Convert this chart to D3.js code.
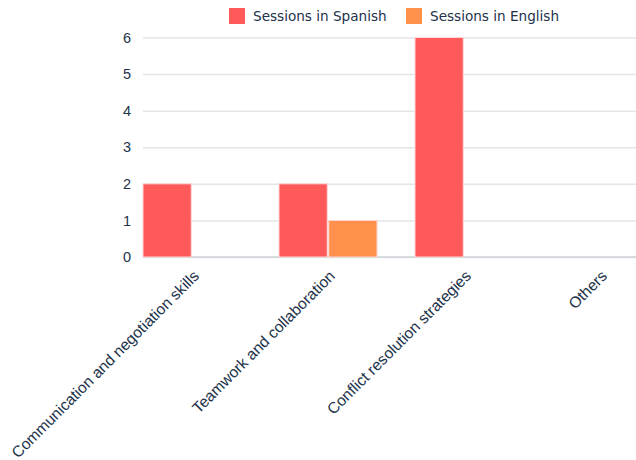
<!DOCTYPE html>
<html>
<head>
<meta charset="utf-8">
<script src="https://cdn.jsdelivr.net/npm/d3@7"></script>
<style>
  html, body { margin: 0; padding: 0; background: #ffffff; }
  svg { display: block; font-family: "DejaVu Sans", "Noto Sans", sans-serif; }
</style>
</head>
<body>
<svg id="chart" width="636" height="460"></svg>
<script>
// Training topics and number of sessions held in each language
const categories = [
  "Communication and negotiation skills",
  "Teamwork and collaboration",
  "Conflict resolution strategies",
  "Others"
];
const seriesNames = ["Sessions in Spanish", "Sessions in English"];
const spanishSessions = [2, 2, 6, 0];
const englishSessions = [0, 1, 0, 0];
const yTicks = [0, 1, 2, 3, 4, 5, 6];
const seriesColors = ["#FF5A5A", "#FF914D"];

const seriesValues = [spanishSessions, englishSessions];
const rows = categories.map((c, i) => ({
  category: c,
  values: seriesNames.map((s, j) => ({ series: s, value: seriesValues[j][i], color: seriesColors[j] }))
}));

const svg = d3.select("#chart");
const W = 636, H = 460;
const plotLeft = 143, plotTop = 37.5, plotBottom = 257;
const step = 136;

const x0 = d3.scaleBand()
  .domain(categories)
  .range([plotLeft, plotLeft + step * categories.length])
  .padding(0);

const x1 = d3.scaleBand()
  .domain(seriesNames)
  .range([0, 98])
  .paddingInner(0.03);

const y = d3.scaleLinear().domain([0, 6]).range([plotBottom, plotTop]);

const textColor = "#22324a";

// Horizontal gridlines and y tick labels
const yAxis = d3.axisLeft(y)
  .tickValues(yTicks)
  .tickSize(-(W - plotLeft))
  .tickPadding(12)
  .tickFormat(d3.format("d"));

const gy = svg.append("g")
  .attr("transform", `translate(${plotLeft},0)`)
  .call(yAxis);
gy.select(".domain").remove();
gy.selectAll(".tick line")
  .attr("stroke", "#e3e5e8")
  .attr("stroke-width", 1.5);
gy.selectAll(".tick text")
  .attr("fill", textColor)
  .attr("font-size", 14.5);

// Baseline
svg.append("line")
  .attr("x1", plotLeft).attr("x2", W)
  .attr("y1", y(0)).attr("y2", y(0))
  .attr("stroke", "#cfd3d8")
  .attr("stroke-width", 1.5);

// Grouped bars
const groups = svg.append("g").selectAll("g")
  .data(rows)
  .join("g")
  .attr("transform", d => `translate(${x0(d.category)},0)`);

groups.selectAll("rect")
  .data(d => d.values.filter(v => v.value > 0))
  .join("rect")
  .attr("x", d => x1(d.series))
  .attr("y", d => y(d.value))
  .attr("width", x1.bandwidth())
  .attr("height", d => y(0) - y(d.value))
  .attr("fill", d => d.color)
  .attr("stroke", "#ffd6d6")
  .attr("stroke-width", 1);

// Rotated category labels
const xAxis = d3.axisBottom(x0).tickSize(0).tickPadding(0);
const gx = svg.append("g")
  .attr("transform", `translate(0,${plotBottom})`)
  .call(xAxis);
gx.select(".domain").remove();
gx.selectAll(".tick text")
  .attr("fill", textColor)
  .attr("font-size", 15.6)
  .attr("text-anchor", "end")
  .attr("dy", null)
  .attr("y", 0)
  .attr("transform", "translate(-11,20) rotate(-45)");

// Legend
const legendItems = [
  { name: seriesNames[0], color: seriesColors[0], x: 229 },
  { name: seriesNames[1], color: seriesColors[1], x: 406 }
];
const legend = svg.append("g").selectAll("g")
  .data(legendItems)
  .join("g")
  .attr("transform", d => `translate(${d.x},8)`);
legend.append("rect")
  .attr("width", 16).attr("height", 16)
  .attr("fill", d => d.color);
legend.append("text")
  .attr("x", 24).attr("y", 13)
  .attr("fill", textColor)
  .attr("font-size", 13.6)
  .text(d => d.name);
</script>
</body>
</html>
